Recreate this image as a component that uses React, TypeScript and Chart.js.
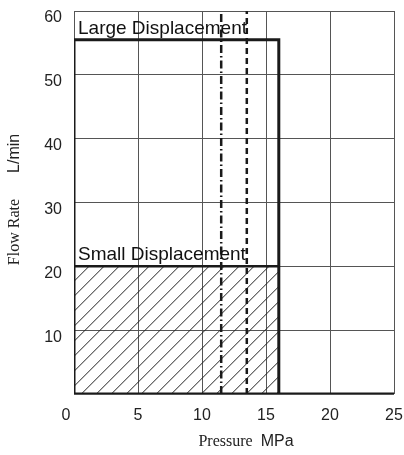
import React, { useEffect, useRef } from "react";
import { Chart, registerables } from "chart.js";

Chart.register(...registerables);

const xTicks = [0, 5, 10, 15, 20, 25];
const yTicks = [0, 10, 20, 30, 40, 50, 60];
const largeX = [16, 16, 0, 0, 25];
const largeY = [0, 55.5, 55.5, 0, 0];
const smallX = [0, 16];
const smallY = [20, 20];
const hatchRange = { x0: 0, x1: 16, y0: 0, y1: 20 };
const dashDotX = 11.5;
const dashedX = 13.5;
const labels = [
  { text: "Large Displacement", x: 0, y: 55.5 },
  { text: "Small Displacement", x: 0, y: 20 },
];
const xTitle = ["Pressure", "MPa"];
const yTitle = ["Flow Rate", "L/min"];

const SANS = '"Liberation Sans", Arial, sans-serif';
const SERIF = '"Liberation Serif", "Times New Roman", serif';

const pts = (xs: number[], ys: number[]) => xs.map((x, i) => ({ x, y: ys[i] }));

const decor = {
  id: "decor",
  beforeDatasetsDraw(chart: any) {
    const { ctx } = chart;
    const xs = chart.scales.x;
    const ys = chart.scales.y;
    const L = xs.getPixelForValue(hatchRange.x0);
    const R = xs.getPixelForValue(hatchRange.x1);
    const T = ys.getPixelForValue(hatchRange.y1);
    const B = ys.getPixelForValue(hatchRange.y0);
    ctx.save();
    ctx.beginPath();
    ctx.rect(L, T, R - L, B - T);
    ctx.clip();
    ctx.strokeStyle = "#222";
    ctx.lineWidth = 1;
    const H = B - T;
    ctx.beginPath();
    for (let c = -H; c < R - L + H; c += 15) {
      ctx.moveTo(L + c, B);
      ctx.lineTo(L + c + H, B - H);
    }
    ctx.stroke();
    ctx.restore();
  },
  afterDraw(chart: any) {
    const { ctx, chartArea } = chart;
    const xs = chart.scales.x;
    const ys = chart.scales.y;
    ctx.save();
    ctx.fillStyle = "#111";
    ctx.font = `19px ${SANS}`;
    ctx.textBaseline = "alphabetic";
    ctx.textAlign = "left";
    for (const l of labels) {
      ctx.fillText(l.text, xs.getPixelForValue(l.x) + 4, ys.getPixelForValue(l.y) - 6);
    }
    // x title
    const serifFont = `16px ${SERIF}`;
    const sansFont = `16px ${SANS}`;
    ctx.fillStyle = "#222";
    ctx.textBaseline = "middle";
    const cx = (chartArea.left + chartArea.right) / 2;
    ctx.font = serifFont;
    const w1 = ctx.measureText(xTitle[0]).width;
    ctx.font = sansFont;
    const w2 = ctx.measureText(xTitle[1]).width;
    const gap = 8;
    let sx = cx + 12 - (w1 + gap + w2) / 2;
    ctx.font = serifFont;
    ctx.fillText(xTitle[0], sx, 442);
    ctx.font = sansFont;
    ctx.fillText(xTitle[1], sx + w1 + gap, 442);
    // y title
    ctx.save();
    ctx.translate(15, (chartArea.top + chartArea.bottom) / 2);
    ctx.rotate(-Math.PI / 2);
    ctx.font = serifFont;
    const v1 = ctx.measureText(yTitle[0]).width;
    ctx.font = sansFont;
    const v2 = ctx.measureText(yTitle[1]).width;
    const gapY = 26;
    const sy = -(v1 + gapY + v2) / 2 + 3;
    ctx.font = serifFont;
    ctx.fillText(yTitle[0], sy, 0);
    ctx.font = sansFont;
    ctx.fillText(yTitle[1], sy + v1 + gapY, 0);
    ctx.restore();
    ctx.restore();
  },
};

export default function App() {
  const ref = useRef<HTMLCanvasElement>(null);
  useEffect(() => {
    document.body.style.margin = "0";
    const chart = new Chart(ref.current!, {
      type: "scatter",
      data: {
        datasets: [
          {
            data: pts(largeX, largeY),
            showLine: true,
            borderColor: "#1a1a1a",
            borderWidth: 3,
            pointRadius: 0,
            fill: false,
          },
          {
            data: pts(smallX, smallY),
            showLine: true,
            borderColor: "#1a1a1a",
            borderWidth: 2.5,
            pointRadius: 0,
          },
          {
            data: pts([dashDotX, dashDotX], [0, 60]),
            showLine: true,
            borderColor: "#1a1a1a",
            borderWidth: 2.5,
            borderDash: [8, 3, 1.5, 3],
            pointRadius: 0,
          },
          {
            data: pts([dashedX, dashedX], [0, 60]),
            showLine: true,
            borderColor: "#1a1a1a",
            borderWidth: 2.5,
            borderDash: [6, 4],
            pointRadius: 0,
          },
        ],
      },
      options: {
        animation: false,
        responsive: false,
        layout: { padding: { top: 11, right: 10, left: 0, bottom: 0 }, autoPadding: false },
        plugins: { legend: { display: false }, tooltip: { enabled: false } },
        scales: {
          x: {
            type: "linear",
            min: 0,
            max: 25,
            afterBuildTicks: (s: any) => {
              s.ticks = xTicks.map((v) => ({ value: v }));
            },
            afterFit: (s: any) => {
              s.height = 61;
              s.paddingLeft = 0;
              s.paddingRight = 0;
            },
            grid: { color: "#555", lineWidth: 1, drawTicks: false },
            border: { display: false },
            ticks: {
              padding: 12,
              color: "#222",
              font: { family: SANS, size: 16 },
              maxRotation: 0,
              callback: (v: any) => (v === 0 ? "0\u2003" : String(v)),
            },
          },
          y: {
            type: "linear",
            min: 0,
            max: 60,
            afterBuildTicks: (s: any) => {
              s.ticks = yTicks.map((v) => ({ value: v }));
            },
            afterFit: (s: any) => {
              s.width = 74;
              s.paddingTop = 0;
              s.paddingBottom = 0;
            },
            grid: { color: "#555", lineWidth: 1, drawTicks: false },
            border: { display: false },
            ticks: {
              padding: 12,
              color: "#222",
              labelOffset: 7,
              font: { family: SANS, size: 16 },
              callback: (v: any) => (v === 0 ? "" : String(v)),
            },
          },
        },
      },
      plugins: [decor],
    });
    return () => chart.destroy();
  }, []);
  return <canvas ref={ref} width={404} height={455} style={{ display: "block" }} />;
}
